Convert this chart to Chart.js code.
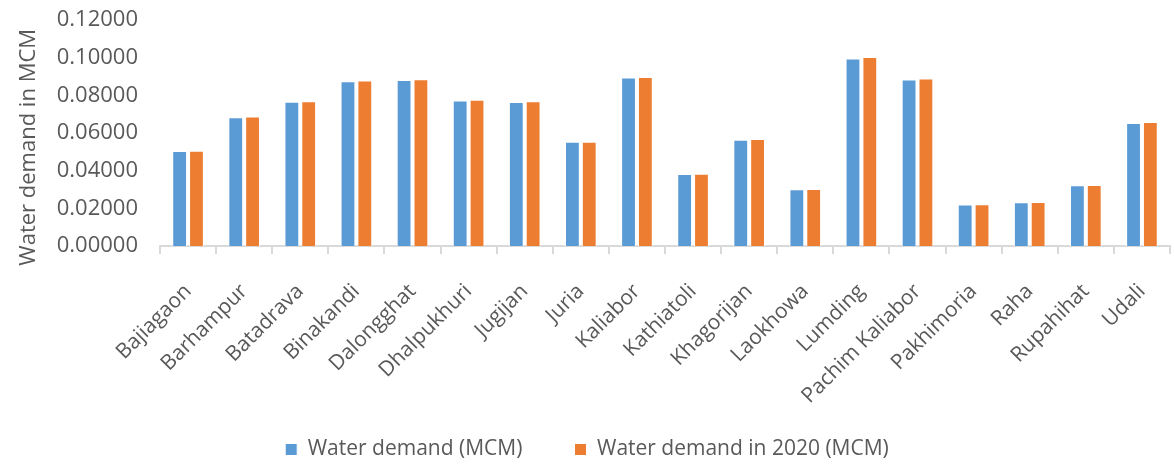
<!DOCTYPE html>
<html>
<head>
<meta charset="utf-8">
<script src="https://cdn.jsdelivr.net/npm/chart.js@4/dist/chart.umd.min.js"></script>
<style>
  html, body { margin: 0; padding: 0; background: #fff; }
  #wrap { width: 1174px; height: 466px; position: relative; }
</style>
</head>
<body>
<div id="wrap"><canvas id="grafico"></canvas></div>
<script>
const categorias = ["Bajiagaon", "Barhampur", "Batadrava", "Binakandi", "Dalongghat", "Dhalpukhuri",
  "Jugijan", "Juria", "Kaliabor", "Kathiatoli", "Khagorijan", "Laokhowa", "Lumding",
  "Pachim Kaliabor", "Pakhimoria", "Raha", "Rupahihat", "Udali"];
const demanda = [0.0504, 0.0684, 0.0766, 0.0875, 0.0882, 0.0773, 0.0764, 0.0553, 0.0895,
  0.0382, 0.0564, 0.0301, 0.0996, 0.0884, 0.0221, 0.0232, 0.0322, 0.0653];
const demanda2020 = [0.0506, 0.0688, 0.0769, 0.0879, 0.0886, 0.0776, 0.0769, 0.0554, 0.0897,
  0.0384, 0.0568, 0.0302, 0.1003, 0.0890, 0.0222, 0.0233, 0.0324, 0.0658];
const ticksY = [0, 0.02, 0.04, 0.06, 0.08, 0.10, 0.12];

const cinza = "#595959";
const fonte = "'Open Sans', sans-serif";

new Chart(document.getElementById("grafico").getContext("2d"), {
  type: "bar",
  data: {
    labels: categorias,
    datasets: [
      {
        label: "Water demand (MCM)",
        data: demanda,
        backgroundColor: "#5B9BD5",
        borderColor: "#ffffff",
        borderWidth: 1
      },
      {
        label: "Water demand in 2020 (MCM)",
        data: demanda2020,
        backgroundColor: "#ED7D31",
        borderColor: "#ffffff",
        borderWidth: 1
      }
    ]
  },
  options: {
    responsive: true,
    maintainAspectRatio: false,
    animation: false,
    layout: { padding: { top: 20, right: 4, left: 4, bottom: -4 } },
    datasets: { bar: { categoryPercentage: 0.6, barPercentage: 0.88 } },
    plugins: {
      tooltip: { enabled: false },
      legend: {
        position: "bottom",
        labels: {
          color: cinza,
          font: { family: fonte, size: 21 },
          boxWidth: 12,
          boxHeight: 12,
          padding: 3,
          // espaço extra entre os dois itens da legenda
          generateLabels: (chart) => {
            const itens = Chart.defaults.plugins.legend.labels.generateLabels(chart);
            if (itens.length) itens[0].text += "         ";
            return itens;
          }
        }
      }
    },
    scales: {
      x: {
        afterFit: (eixo) => {
          eixo.height = 190;
          eixo.paddingLeft = 0;
          eixo.paddingRight = 0;
        },
        grid: {
          offset: true,
          drawOnChartArea: false,
          color: "#d9d9d9",
          lineWidth: 2,
          tickLength: 8
        },
        border: { color: "#d9d9d9", width: 2 },
        ticks: {
          color: cinza,
          font: { family: fonte, size: 21 },
          minRotation: 45,
          maxRotation: 45,
          padding: 25
        }
      },
      y: {
        min: 0,
        max: 0.12,
        afterBuildTicks: (eixo) => { eixo.ticks = ticksY.map(v => ({ value: v })); },
        afterFit: (eixo) => { eixo.width = 156; },
        grid: { display: false, tickLength: 22 },
        border: { display: false },
        ticks: {
          color: cinza,
          font: { family: fonte, size: 22, lineHeight: 1 },
          padding: 0,
          callback: (v) => Number(v).toFixed(5)
        },
        title: {
          display: true,
          // espaços no fim empurram o título um pouco para baixo, como no original
          text: "Water demand in MCM     ",
          color: cinza,
          font: { family: fonte, size: 22 },
          padding: { top: 12, bottom: 14 }
        }
      }
    }
  }
});
</script>
</body>
</html>
